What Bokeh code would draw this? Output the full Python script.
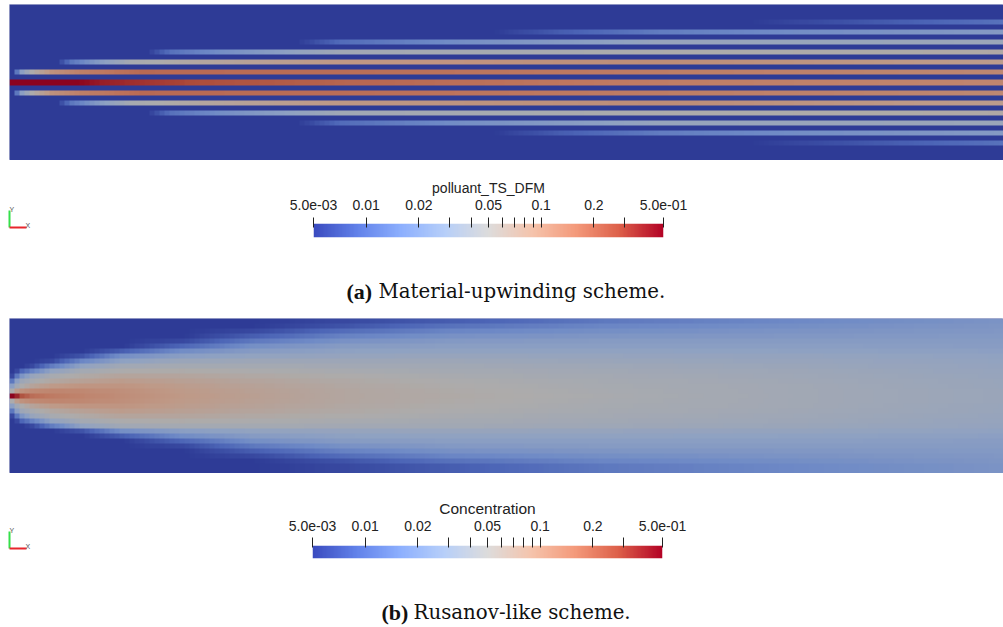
import numpy as np
from bokeh.embed import file_html
from bokeh.resources import INLINE
from bokeh.plotting import figure
from bokeh.layouts import column, row
from bokeh.models import LogColorMapper, FixedTicker
from bokeh.core.properties import value

# ---- colour scale (ParaView "cool to warm", log scale) ----
C_MIN = 0.005
C_MAX = 0.5
COLOR_STOPS = ["#3b4cc0", "#6282ea", "#8db0fe", "#b7cff9", "#dddcdc", "#f5c4ac", "#f49a7b", "#dd604a", "#b40426"]
SHADE = 0.78
TICKS = [0.005, 0.01, 0.02, 0.03, 0.04, 0.05, 0.06, 0.07, 0.08, 0.09, 0.1, 0.2, 0.3, 0.5]
TICK_LABELS = {0.005: "5.0e-03", 0.01: "0.01", 0.02: "0.02", 0.05: "0.05", 0.1: "0.1", 0.2: "0.2", 0.5: "5.0e-01"}
TITLE_A = "polluant_TS_DFM"
TITLE_B = "Concentration"
CAPTION_A = ("(a)", "Material-upwinding scheme.")
CAPTION_B = ("(b)", "Rusanov-like scheme.")

# ---- panel (a): concentration along each stripe, offset 0..6 from the axis ----
# (station along the channel in cells of the mesh, value read from the colours)
STRIPE_0_X = [0, 13, 18, 26, 38, 66, 130, 199]
STRIPE_0_C = [0.5, 0.5, 0.40, 0.34, 0.27, 0.20, 0.145, 0.125]
STRIPE_1_X = [0, 1, 2, 4, 8, 14, 26, 66, 130, 199]
STRIPE_1_C = [0.005, 0.012, 0.027, 0.05, 0.10, 0.14, 0.19, 0.18, 0.145, 0.12]
STRIPE_2_X = [9, 12, 18, 24, 38, 66, 130, 199]
STRIPE_2_C = [0.005, 0.012, 0.026, 0.045, 0.06, 0.09, 0.11, 0.08]
STRIPE_3_X = [27, 32, 42, 54, 66, 130, 199]
STRIPE_3_C = [0.005, 0.011, 0.018, 0.027, 0.04, 0.05, 0.055]
STRIPE_4_X = [57, 66, 90, 130, 199]
STRIPE_4_C = [0.005, 0.010, 0.018, 0.033, 0.036]
STRIPE_5_X = [96, 110, 130, 160, 199]
STRIPE_5_C = [0.005, 0.008, 0.013, 0.018, 0.024]
STRIPE_6_X = [147, 158, 175, 199]
STRIPE_6_C = [0.005, 0.006, 0.0078, 0.011]

# ---- panel (b): concentration by row offset from the axis, at stations along the channel ----
B_STATIONS = [0, 1, 2, 4, 8, 14, 22, 34, 48, 66, 88, 118, 158, 199]
B_ROW_0 = [0.5, 0.38, 0.25, 0.18, 0.15, 0.13, 0.11, 0.088, 0.074, 0.06, 0.054, 0.047, 0.04, 0.035]
B_ROW_1 = [0.05, 0.08, 0.10, 0.115, 0.125, 0.12, 0.105, 0.085, 0.072, 0.06, 0.053, 0.046, 0.04, 0.035]
B_ROW_2 = [0.027, 0.04, 0.05, 0.065, 0.085, 0.095, 0.095, 0.08, 0.068, 0.058, 0.051, 0.045, 0.04, 0.034]
B_ROW_3 = [0.012, 0.027, 0.037, 0.045, 0.058, 0.07, 0.08, 0.072, 0.063, 0.055, 0.049, 0.044, 0.039, 0.034]
B_ROW_4 = [0.006, 0.012, 0.021, 0.033, 0.045, 0.054, 0.064, 0.062, 0.056, 0.051, 0.046, 0.042, 0.038, 0.033]
B_ROW_5 = [0.005, 0.006, 0.009, 0.014, 0.03, 0.042, 0.05, 0.052, 0.049, 0.046, 0.043, 0.04, 0.037, 0.032]
B_ROW_6 = [0.005, 0.005, 0.005, 0.006, 0.013, 0.029, 0.04, 0.043, 0.043, 0.041, 0.04, 0.038, 0.035, 0.031]
B_ROW_7 = [0.005, 0.005, 0.005, 0.005, 0.006, 0.015, 0.028, 0.035, 0.037, 0.037, 0.037, 0.035, 0.033, 0.03]
B_ROW_8 = [0.005, 0.005, 0.005, 0.005, 0.005, 0.007, 0.018, 0.026, 0.03, 0.032, 0.033, 0.032, 0.031, 0.029]
B_ROW_9 = [0.005, 0.005, 0.005, 0.005, 0.005, 0.005, 0.008, 0.017, 0.024, 0.028, 0.029, 0.029, 0.028, 0.027]
B_ROW_10 = [0.005, 0.005, 0.005, 0.005, 0.005, 0.005, 0.005, 0.009, 0.018, 0.024, 0.026, 0.026, 0.026, 0.025]
B_ROW_11 = [0.005, 0.005, 0.005, 0.005, 0.005, 0.005, 0.005, 0.006, 0.012, 0.019, 0.023, 0.024, 0.024, 0.024]
B_ROW_12 = [0.005, 0.005, 0.005, 0.005, 0.005, 0.005, 0.005, 0.005, 0.008, 0.014, 0.019, 0.021, 0.022, 0.023]
B_ROW_13 = [0.005, 0.005, 0.005, 0.005, 0.005, 0.005, 0.005, 0.005, 0.006, 0.010, 0.015, 0.018, 0.020, 0.022]
B_ROW_14 = [0.005, 0.005, 0.005, 0.005, 0.005, 0.005, 0.005, 0.005, 0.005, 0.007, 0.011, 0.015, 0.018, 0.021]
B_ROW_15 = [0.005, 0.005, 0.005, 0.005, 0.005, 0.005, 0.005, 0.005, 0.005, 0.006, 0.008, 0.012, 0.016, 0.020]

N_COLS = 199
N_ROWS = 31
HALF = N_ROWS // 2
FONT_SANS = "Liberation Sans"
FONT_SERIF = "DejaVu Serif"
FONT_BOLD = "Liberation Serif"
PAGE_W = 1003


def make_palette(factor):
    rgb = np.array([[int(c[i:i + 2], 16) for i in (1, 3, 5)] for c in COLOR_STOPS], float) * factor
    pos = np.linspace(0, 1, len(COLOR_STOPS))
    t = np.linspace(0, 1, 256)
    out = np.column_stack([np.interp(t, pos, rgb[:, k]) for k in range(3)]).round().astype(int)
    return ["#%02x%02x%02x" % tuple(v) for v in out]


LEGEND_MAP = LogColorMapper(palette=make_palette(1.0), low=C_MIN, high=C_MAX)
PANEL_MAP = LogColorMapper(palette=make_palette(SHADE), low=C_MIN, high=C_MAX)


def shade_row(xs, cs):
    """Shade one row of cells between the values read at its stations (log colour scale)."""
    return np.exp(np.interp(np.arange(N_COLS), xs, np.log(cs)))


def panel(field, height, top):
    p = figure(width=PAGE_W, height=height, x_range=(0, N_COLS), y_range=(0, N_ROWS),
               x_axis_type=None, y_axis_type=None, toolbar_location=None, output_backend="svg",
               min_border=0, min_border_left=9, min_border_top=top, frame_align=False,
               outline_line_color="#aeb3d2", outline_line_width=1)
    p.grid.visible = False
    p.image(image=[field], x=0, y=0, dw=N_COLS, dh=N_ROWS, color_mapper=PANEL_MAP)
    return p


def orientation(width, height, top_y):
    p = figure(width=width, height=height, x_range=(0, width), y_range=(height, 0),
               x_axis_type=None, y_axis_type=None, toolbar_location=None, output_backend="svg",
               min_border=0, frame_align=False, outline_line_color=None)
    p.grid.visible = False
    p.segment(x0=[9], y0=[top_y + 17], x1=[9], y1=[top_y], line_color="#35e04a", line_width=2)
    p.segment(x0=[9], y0=[top_y + 17], x1=[26], y1=[top_y + 17], line_color="#e8262c", line_width=2)
    p.text(x=[9, 25], y=[top_y - 1, top_y + 15], text=["Y", "X"], text_font=value(FONT_SANS),
           text_font_size="7px", text_color="#555555", text_baseline="middle")
    return p


def colourbar(title, width, height, left, frame_top, bar_h, tick_out, tick_in, standoff, title_size):
    p = figure(width=width, height=height, x_axis_type="log", x_range=(C_MIN, C_MAX), y_range=(0, 1),
               y_axis_type=None, x_axis_location="above", toolbar_location=None, output_backend="svg",
               min_border=0, frame_align=False, outline_line_color=None)
    p.min_border_left = left
    p.min_border_right = width - left - 350
    p.min_border_top = frame_top
    p.min_border_bottom = height - frame_top - bar_h
    p.grid.visible = False
    ramp = np.logspace(np.log10(C_MIN), np.log10(C_MAX), 350)[None, :]
    p.image(image=[ramp], x=C_MIN, y=0, dw=C_MAX - C_MIN, dh=1, color_mapper=LEGEND_MAP)
    ax = p.xaxis[0]
    ax.ticker = FixedTicker(ticks=TICKS)
    ax.major_label_overrides = {t: TICK_LABELS.get(t, "") for t in TICKS}
    ax.major_tick_line_color = "#222222"
    ax.major_tick_out = tick_out
    ax.major_tick_in = tick_in
    ax.minor_tick_line_color = None
    ax.axis_line_color = None
    ax.major_label_standoff = standoff
    ax.major_label_text_font = FONT_SANS
    ax.major_label_text_font_size = "14px"
    ax.major_label_text_color = "#222222"
    ax.axis_label = title
    ax.axis_label_text_font = FONT_SANS
    ax.axis_label_text_font_style = "normal"
    ax.axis_label_text_font_size = title_size
    ax.axis_label_text_color = "#222222"
    ax.axis_label_standoff = 1
    return p


def caption(parts, height, base_y, x_bold, x_text):
    p = figure(width=PAGE_W, height=height, x_range=(0, PAGE_W), y_range=(height, 0),
               x_axis_type=None, y_axis_type=None, toolbar_location=None, output_backend="svg",
               min_border=0, frame_align=False, outline_line_color=None)
    p.grid.visible = False
    p.text(x=[x_bold], y=[base_y], text=[parts[0]], text_font=value(FONT_BOLD), text_font_style="bold",
           text_font_size="22px", text_color="#111111", text_baseline="alphabetic")
    p.text(x=[x_text], y=[base_y], text=[parts[1]], text_font=value(FONT_SERIF),
           text_font_size="19.8px", text_color="#111111", text_baseline="alphabetic")
    return p


# ---- assemble the two fields ----
field_a = np.full((N_ROWS, N_COLS), C_MIN)
stripes = [(STRIPE_0_X, STRIPE_0_C), (STRIPE_1_X, STRIPE_1_C), (STRIPE_2_X, STRIPE_2_C), (STRIPE_3_X, STRIPE_3_C),
           (STRIPE_4_X, STRIPE_4_C), (STRIPE_5_X, STRIPE_5_C), (STRIPE_6_X, STRIPE_6_C)]
for k, (xs, cs) in enumerate(stripes):
    line = shade_row(xs, cs)
    line[np.arange(N_COLS) < xs[0]] = C_MIN
    field_a[HALF + 2 * k] = line
    field_a[HALF - 2 * k] = line

b_rows = [B_ROW_0, B_ROW_1, B_ROW_2, B_ROW_3, B_ROW_4, B_ROW_5, B_ROW_6, B_ROW_7, B_ROW_8, B_ROW_9,
          B_ROW_10, B_ROW_11, B_ROW_12, B_ROW_13, B_ROW_14, B_ROW_15]
field_b = np.zeros((N_ROWS, N_COLS))
for k, cs in enumerate(b_rows):
    field_b[HALF + k] = shade_row(B_STATIONS, cs)
    # the lower side of the plume is a little narrower than the upper one
    lower = b_rows[k + 1] if 7 <= k < 15 else cs
    field_b[HALF - k] = shade_row(B_STATIONS, lower)

page = column(
    panel(field_a, 160, 4),
    row(orientation(240, 80, 50), colourbar(TITLE_A, 763, 80, 73, 63, 14, 6, 4, 8, "14px"), spacing=0),
    caption(CAPTION_A, 78, 51, 346, 378),
    panel(field_b, 155, 0),
    row(orientation(240, 87, 58), colourbar(TITLE_B, 763, 87, 72, 72, 13, 8, 2, 7, "15.5px"), spacing=0),
    caption(CAPTION_B, 67, 52, 381, 413),
    spacing=0,
)

open("out.html", "w").write(file_html(page, INLINE))
